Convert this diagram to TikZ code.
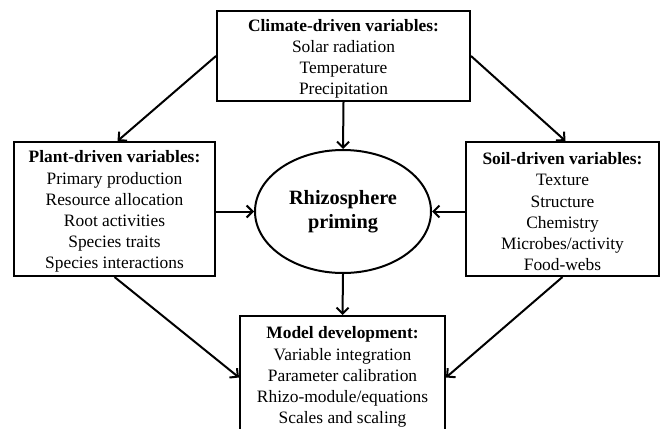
\documentclass[tikz,border=0pt]{standalone}
\usepackage{fontspec}
\setmainfont{Liberation Serif}
\usetikzlibrary{arrows.meta,shapes.geometric}
\newcommand{\topstrut}{\rule{0pt}{17.5pt}}
\begin{document}
\begin{tikzpicture}[x=1pt,y=-1pt,
  box/.style={draw, line width=2pt, rectangle, align=center, inner sep=0pt,
    font=\fontsize{17.4}{21.2}\selectfont},
  oval/.style={draw, line width=2pt, ellipse, align=center, inner sep=0pt,
    font=\fontsize{20.3}{24.5}\selectfont\bfseries},
  arr/.style={line width=2pt, -{Straight Barb[length=6pt,width=12pt,line width=2pt]}}]
\useasboundingbox (0,0) rectangle (668,428);
\clip (0,0) rectangle (668,428);
\node[box, minimum width=253, minimum height=90] (clim) at (343.5,56)
  {\topstrut\textbf{Climate-driven variables:}\\Solar radiation\\Temperature\\Precipitation};
\node[box, minimum width=201, minimum height=134] (plant) at (114.5,209)
  {\topstrut\textbf{Plant-driven variables:}\\Primary production\\Resource allocation\\Root activities\\Species traits\\Species interactions};
\node[box, minimum width=193, minimum height=134] (soil) at (562.5,209)
  {\topstrut\textbf{Soil-driven variables:}\\Texture\\Structure\\Chemistry\\Microbes/activity\\Food-webs};
\node[oval, minimum width=176, minimum height=123] (rhizo) at (343,211.5)
  {Rhizosphere\\priming};
\node[box, minimum width=205, minimum height=117] (model) at (342.5,374.5)
  {\topstrut\textbf{Model development:}\\Variable integration\\Parameter calibration\\Rhizo-module/equations\\Scales and scaling};
\draw[arr] (clim.south) -- (rhizo.north);
\draw[arr] (plant.east |- rhizo.west) -- (rhizo.west);
\draw[arr] (soil.west |- rhizo.east) -- (rhizo.east);
\draw[arr] (rhizo.south) -- (model.north);
\draw[arr] (clim.west) -- ([xshift=3pt]plant.north);
\draw[arr] (clim.east) -- ([xshift=3pt]soil.north);
\draw[arr] (plant.south) -- ([yshift=-3pt]model.west);
\draw[arr] (soil.south) -- ([yshift=-3pt]model.east);
\end{tikzpicture}
\end{document}
